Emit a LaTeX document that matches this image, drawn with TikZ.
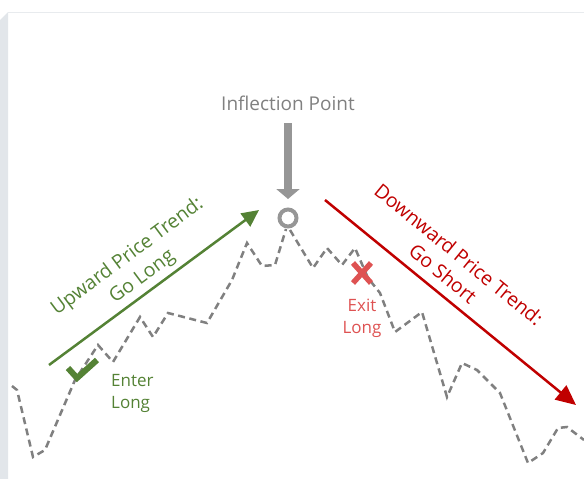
\documentclass[tikz,border=0pt]{standalone}
\usepackage{fontspec}
\setmainfont{Open Sans}
\usepackage{xcolor}
\definecolor{upgreen}{RGB}{84, 130, 53}
\definecolor{downred}{RGB}{192, 0, 0}
\definecolor{exitred}{RGB}{222, 82, 82}
\definecolor{pathgray}{RGB}{128, 128, 128}
\definecolor{infgray}{RGB}{150, 150, 150}
\definecolor{framegray}{RGB}{226, 230, 234}
\usetikzlibrary{calc, positioning, arrows.meta}

\begin{document}
\begin{tikzpicture}[
  x=1pt, y=-1pt,
  trend/.style={font=\fontsize{19.5}{25}\selectfont, align=center, inner sep=0pt},
  signal/.style={font=\fontsize{17}{22.5}\selectfont, align=center, inner sep=0pt},
  price/.style={pathgray, line width=2.5pt, dash pattern=on 7pt off 4.5pt}
]
  \useasboundingbox (0,0) rectangle (584,479);

  % frame
  \fill[framegray] (0,20) -- (8,12) -- (8,479) -- (0,479) -- cycle;
  \draw[framegray!80!white, line width=1.8pt] (8,12.5) -- (584,12.5);

  % price path
  \draw[price] (12,386) -- (17,390) -- (33,457) -- (45,450) -- (75,380) -- (98,345)
    -- (113,362) -- (140,317) -- (153,337) -- (168,313) -- (207,323) -- (232,280)
    -- (247,243) -- (262,266) -- (275,265) -- (286,229);
  \draw[price] (290,230) -- (313,268) -- (327,248) -- (342,265) -- (355,248)
    -- (368,278) -- (380,293) -- (395,332) -- (422,312) -- (447,397) -- (462,363)
    -- (477,370) -- (500,393) -- (528,463) -- (543,453) -- (558,428) -- (567,427)
    -- (584,440);

  % inflection point
  \node[text=pathgray, font=\fontsize{19}{22}\selectfont] (inflabel) at (288,103) {Inflection Point};
  \node[circle, draw=infgray, line width=4pt, minimum size=17pt, inner sep=0pt] (infpt) at (288,218) {};
  \coordinate (inftop) at (288,123);
  \coordinate (inftip) at (288,199);
  \draw[-{Triangle[length=10pt, width=23pt]}, infgray, line width=8pt] (inftop) -- (inftip);

  % trends
  \coordinate (upstart) at (49,365);
  \coordinate (upend) at (259,210);
  \draw[-{Triangle[length=17pt, width=16pt]}, upgreen, line width=2.5pt] (upstart) -- (upend);
  \node[trend, text=upgreen, rotate=36.7] (uplabel) at (135,267) {Upward Price Trend:\\Go Long};

  \coordinate (downstart) at (325,200);
  \coordinate (downend) at (576,405);
  \draw[-{Triangle[length=20pt, width=18pt]}, downred, line width=2.5pt] (downstart) -- (downend);
  \node[trend, text=downred, rotate=-39.3] (downlabel) at (451,264) {Downward Price Trend:\\Go Short};

  % signals
  \node[inner sep=0pt, minimum size=1pt] (entermark) at (80,370) {};
  \draw[upgreen, line width=6pt] ($(entermark)+(-12,-2)$) -- ($(entermark)+(-3,8)$) -- ($(entermark)+(17,-10)$);
  \node[signal, text=upgreen, align=left, anchor=north west] (enterlabel) at (111,374) {Enter\\Long};

  \node[inner sep=0pt, minimum size=1pt] (exitmark) at (362,273) {};
  \draw[exitred, line width=5.5pt] ($(exitmark)+(-9,-10)$) -- ($(exitmark)+(9,10)$);
  \draw[exitred, line width=5.5pt] ($(exitmark)+(9,-10)$) -- ($(exitmark)+(-9,10)$);
  \node[signal, text=exitred, below=25pt of exitmark] (exitlabel) {Exit\\Long};
\end{tikzpicture}
\end{document}
